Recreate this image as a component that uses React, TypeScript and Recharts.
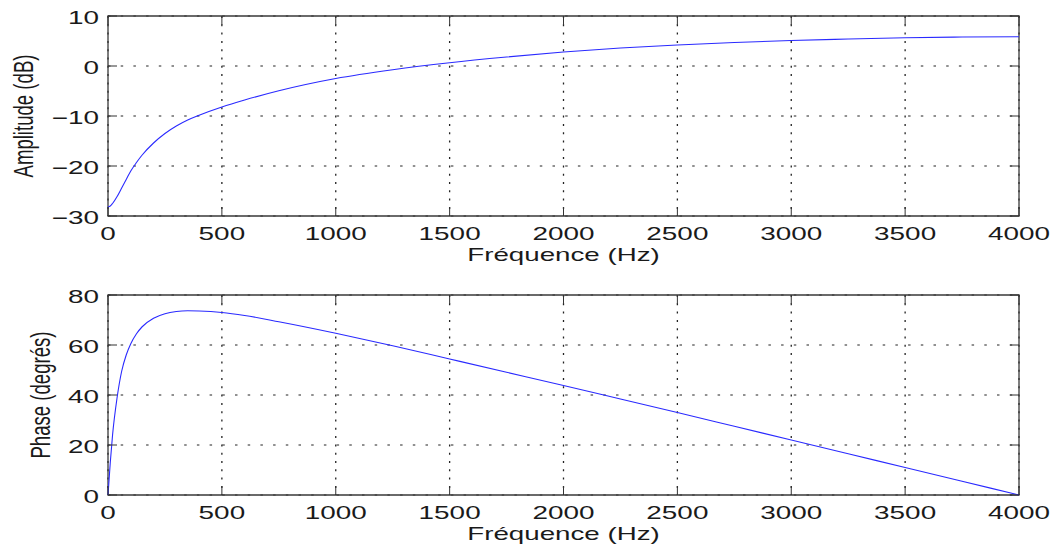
import {
  LineChart,
  Line,
  XAxis,
  YAxis,
  CartesianGrid,
  ReferenceArea
} from "recharts";

// frequency response, sampled in Hz
const freqHz = [
  0, 10, 20, 40, 60, 80, 100, 125, 150, 200, 250, 300, 350, 400, 500, 600, 750,
  1000, 1250, 1500, 1750, 2000, 2250, 2500, 2750, 3000, 3250, 3500, 3750, 4000
];

const amplitudeDb = [
  -28.2, -28.0, -27.5, -26.1, -24.4, -22.7, -21.0, -19.3, -17.8, -15.4, -13.5,
  -12.0, -10.8, -9.85, -8.2, -6.8, -4.95, -2.5, -0.75, 0.65, 1.8, 2.8, 3.6, 4.2,
  4.7, 5.1, 5.4, 5.65, 5.8, 5.85
];

const phaseDeg = [
  0, 13, 24, 39, 49.5, 56, 60.5, 64.5, 67.3, 70.7, 72.5, 73.4, 73.7, 73.6, 73.0,
  71.8, 69.3, 64.7, 59.7, 54.4, 49.1, 43.8, 38.4, 33.0, 27.5, 22.0, 16.5, 11.0,
  5.5, 0
];

const freqTicks = [0, 500, 1000, 1500, 2000, 2500, 3000, 3500, 4000];
const ampTicks = [-30, -20, -10, 0, 10];
const phaseTicks = [0, 20, 40, 60, 80];

const rows = freqHz.map((f, i) => ({ f, amp: amplitudeDb[i], phase: phaseDeg[i] }));

const FONT = "'Liberation Sans', Arial, Helvetica, sans-serif";
const INK = "#1a1a1a";
const LEFT = 108;
const RIGHT = 1019;
const TICK_LEN = 9;

const fmt = (v: number) => (v < 0 ? `\u2212${Math.abs(v)}` : `${v}`);

function makeXTick(top: number, bottom: number) {
  return (props: any) => {
    const { x, payload } = props;
    return (
      <g>
        <line x1={x} x2={x} y1={bottom} y2={bottom - TICK_LEN} stroke="#333" />
        <line x1={x} x2={x} y1={top} y2={top + TICK_LEN} stroke="#333" />
        <text
          transform={`translate(${x},${bottom + 24}) scale(1.55,1)`}
          textAnchor="middle"
          fontSize={18}
          fontFamily={FONT}
          fill={INK}
        >
          {fmt(payload.value)}
        </text>
      </g>
    );
  };
}

function yTick(props: any) {
  const { y, payload } = props;
  return (
    <g>
      <line x1={LEFT} x2={LEFT + TICK_LEN} y1={y} y2={y} stroke="#333" />
      <line x1={RIGHT - TICK_LEN} x2={RIGHT} y1={y} y2={y} stroke="#333" />
      <text
        transform={`translate(99,${y + 7.5}) scale(1.55,1)`}
        textAnchor="end"
        fontSize={18}
        fontFamily={FONT}
        fill={INK}
      >
        {fmt(payload.value)}
      </text>
    </g>
  );
}

function xLabel(baseline: number) {
  return () => (
    <text
      transform={`translate(${(LEFT + RIGHT) / 2},${baseline}) scale(1.49,1)`}
      textAnchor="middle"
      fontSize={18.6}
      fontFamily={FONT}
      fill={INK}
    >
      Fréquence (Hz)
    </text>
  );
}

function yLabel(text: string, x: number, centerY: number) {
  return () => (
    <text
      transform={`translate(${x},${centerY}) scale(1.5,1) rotate(-90)`}
      textAnchor="middle"
      fontSize={18.6}
      fontFamily={FONT}
      fill={INK}
    >
      {text}
    </text>
  );
}

function Panel({
  height,
  top,
  xAxisHeight,
  dataKey,
  domain,
  ticks,
  label,
  labelX
}: any) {
  const bottom = height - xAxisHeight;
  return (
    <LineChart
      width={1062}
      height={height}
      data={rows}
      margin={{ top, right: 1062 - RIGHT, bottom: 0, left: 0 }}
    >
      <CartesianGrid vertical={false} stroke="#222" strokeDasharray="2.5 10.2" />
      <CartesianGrid horizontal={false} stroke="#222" strokeWidth={1.3} strokeDasharray="2 6.3" />
      <XAxis
        type="number"
        dataKey="f"
        domain={[0, 4000]}
        ticks={freqTicks}
        interval={0}
        height={xAxisHeight}
        axisLine={false}
        tickLine={false}
        tick={makeXTick(top, bottom)}
        label={xLabel(bottom + 45)}
      />
      <YAxis
        type="number"
        domain={domain}
        ticks={ticks}
        interval={0}
        width={LEFT}
        axisLine={false}
        tickLine={false}
        tick={yTick}
        label={yLabel(label, labelX, (top + bottom) / 2)}
      />
      <ReferenceArea
        x1={0}
        x2={4000}
        y1={domain[0]}
        y2={domain[1]}
        fill="none"
        stroke="#3a3a3a"
        strokeWidth={1.3}
      />
      <Line
        type="monotone"
        dataKey={dataKey}
        stroke="#2a2aff"
        strokeWidth={1.1}
        dot={false}
        isAnimationActive={false}
      />
    </LineChart>
  );
}

export default function App() {
  return (
    <div
      style={{
        position: "absolute",
        left: 0,
        top: 0,
        width: 1062,
        height: 544,
        background: "#fff",
        overflow: "hidden"
      }}
    >
      <Panel
        height={280}
        top={16}
        xAxisHeight={64}
        dataKey="amp"
        domain={[-30, 10]}
        ticks={ampTicks}
        label="Amplitude (dB)"
        labelX={33}
      />
      <Panel
        height={264}
        top={15}
        xAxisHeight={49}
        dataKey="phase"
        domain={[0, 80]}
        ticks={phaseTicks}
        label="Phase (degrés)"
        labelX={50}
      />
    </div>
  );
}
